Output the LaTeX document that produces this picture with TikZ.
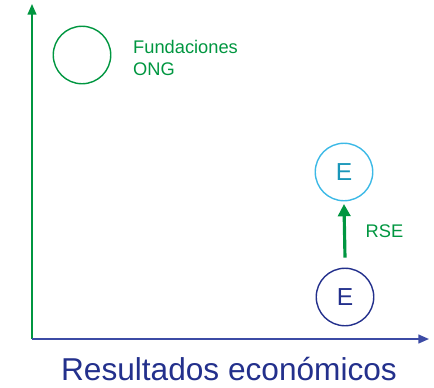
\documentclass[tikz,border=0pt]{standalone}
\usepackage{fontspec}
\setmainfont{Liberation Sans}
\usepackage{tikz}
\usetikzlibrary{arrows.meta, positioning, calc}
\definecolor{ongreen}{RGB}{0,150,64}
\definecolor{axisblue}{RGB}{60,75,165}
\definecolor{darkblue}{RGB}{35,48,140}
\definecolor{skyblue}{RGB}{60,185,230}
\definecolor{tealblue}{RGB}{25,150,185}

\begin{document}
\begin{tikzpicture}[
  x=0.02cm, y=-0.02cm,
  every node/.style={font=\fontsize{10.4}{12}\selectfont},
  entity/.style={circle, draw, line width=0.8pt, minimum size=1.15cm, inner sep=0pt, font=\fontsize{14}{15}\selectfont},
  axis/.style={line width=0.9pt, -{Triangle[length=6pt, width=5pt]}},
  arrow/.style={line width=1.8pt, -{Triangle[length=7pt, width=7pt]}}
]
\useasboundingbox (0,0) rectangle (434,387);

% Axes
\coordinate (origin) at (32,339);
\coordinate (ytip) at (32,4);
\coordinate (xtip) at (429,339);
\draw[axis, ongreen] (origin) -- (ytip);
\draw[axis, axisblue] (origin) -- (xtip);
\node[darkblue, font=\fontsize{18}{20}\selectfont] (xlabel) at (229,369) {Resultados económicos};

% Fundaciones / ONG
\node[entity, draw=ongreen] (ong) at (82,55) {};
\node[ongreen, align=left, anchor=west] (onglabel) at (127,58) {Fundaciones\\ONG};

% Empresa before and after RSE
\node[entity, draw=darkblue, text=darkblue] (empresa) at (345,297) {E};
\node[entity, draw=skyblue, text=tealblue] (empresarse) at (344,172) {E};
\draw[arrow, ongreen] ([yshift=0.2cm]empresa.north) -- ([yshift=-0.05cm]empresarse.south);
\node[ongreen, right=0.3cm of $(empresa.north)!0.55!(empresarse.south)$] (rse) {RSE};

\end{tikzpicture}
\end{document}
